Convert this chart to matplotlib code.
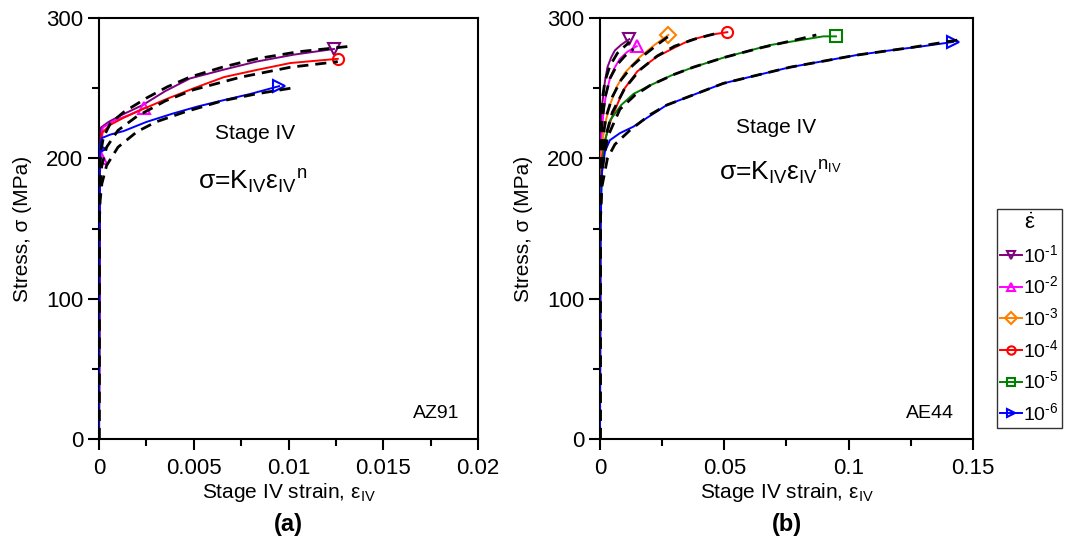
import matplotlib
matplotlib.use("Agg")
import matplotlib.pyplot as plt
from matplotlib.lines import Line2D

plt.rcParams['font.family'] = ['Liberation Sans', 'DejaVu Sans']
plt.rcParams['mathtext.fontset'] = 'custom'
plt.rcParams['mathtext.rm'] = 'Liberation Sans'
plt.rcParams['mathtext.it'] = 'Liberation Sans:italic'
plt.rcParams['mathtext.bf'] = 'Liberation Sans:bold'
plt.rcParams['mathtext.default'] = 'regular'

# strain-rate labels and styles
rate_labels = ['10$^{‐1}$', '10$^{‐2}$', '10$^{‐3}$', '10$^{‐4}$', '10$^{‐5}$', '10$^{‐6}$']
rate_colors = ['#800080', '#ff00ff', '#ff8000', '#ff0000', '#008000', '#0000ff']
rate_markers = ['v', '^', 'D', 'o', 's', '>']

# ---- (a) AZ91 measured curves (strain, stress MPa) ----
a_eps_1 = [0, 0.00005, 0.0001, 0.0005, 0.0012, 0.0023, 0.0035, 0.0048, 0.0065, 0.0083, 0.0103, 0.0124]
a_sig_1 = [0, 200, 222, 226, 231, 238, 248, 257, 263, 269, 274, 278]
a_eps_2 = [0, 0.00005, 0.0001, 0.00015, 0.0002, 0.0008, 0.0016, 0.0024]
a_sig_2 = [0, 190, 200, 212, 222, 227, 231, 236]
a_eps_4 = [0, 0.00005, 0.00014, 0.0006, 0.0013, 0.0022, 0.0035, 0.005, 0.0066, 0.0083, 0.0101, 0.0126]
a_sig_4 = [0, 200, 218, 224, 229, 234.5, 242, 250, 258, 263, 268, 271]
a_eps_6 = [0, 0.00005, 0.00014, 0.0006, 0.0013, 0.0025, 0.0039, 0.0052, 0.0066, 0.008, 0.0095]
a_sig_6 = [0, 207, 214.5, 217, 219.5, 226, 232, 237, 241.6, 246, 251.5]

# (a) fitted curves (dashed)
a_fit_eps_1 = [0, 0.000005, 0.00002, 0.00005, 0.0001, 0.00023, 0.0006, 0.0013, 0.0025, 0.0036, 0.0048, 0.0065, 0.0083, 0.0105, 0.0133]
a_fit_sig_1 = [0, 150, 180, 195, 205, 215, 225, 233, 243, 251, 258, 265, 271, 276, 280]
a_fit_eps_4 = [0, 0.000005, 0.00002, 0.00006, 0.00015, 0.0004, 0.001, 0.002, 0.0035, 0.005, 0.0075, 0.0101, 0.0126]
a_fit_sig_4 = [0, 140, 165, 182, 195, 208, 220, 230, 241, 249, 258, 265, 269]
a_fit_eps_6 = [0, 0.000005, 0.00002, 0.00006, 0.00015, 0.0004, 0.001, 0.002, 0.003, 0.0045, 0.0065, 0.0083, 0.0101]
a_fit_sig_6 = [0, 135, 155, 170, 182, 195, 208, 219, 226, 233, 241, 246, 250]

# ---- (b) AE44 measured curves ----
b_eps_1 = [0, 0.00005, 0.0002, 0.0005, 0.001, 0.002, 0.003, 0.0045, 0.006, 0.0085, 0.0118]
b_sig_1 = [0, 150, 200, 225, 240, 255, 265, 272, 277, 281, 285]
b_eps_2 = [0, 0.0001, 0.0003, 0.0008, 0.0015, 0.0025, 0.004, 0.006, 0.008, 0.011, 0.0148]
b_sig_2 = [0, 170, 200, 220, 235, 246, 257, 265, 271, 276, 280]
b_eps_3 = [0, 0.0002, 0.0006, 0.0012, 0.0025, 0.004, 0.0067, 0.01, 0.0161, 0.022, 0.0275]
b_sig_3 = [0, 185, 205, 215, 228, 238, 251, 261, 272.4, 281, 288]
b_eps_4 = [0, 0.0002, 0.0008, 0.002, 0.0045, 0.0094, 0.015, 0.0228, 0.03, 0.0362, 0.044, 0.0512]
b_sig_4 = [0, 180, 200, 213, 228, 248.7, 262, 272.4, 279, 284.3, 288, 290]
b_eps_5 = [0, 0.0002, 0.0008, 0.002, 0.004, 0.0085, 0.0135, 0.0201, 0.0285, 0.0375, 0.05, 0.0684, 0.0898, 0.0949]
b_sig_5 = [0, 170, 195, 212, 227, 238, 246, 252, 259, 265, 272, 280.8, 287, 287]
b_eps_6 = [0, 0.0002, 0.0008, 0.002, 0.004, 0.008, 0.0134, 0.0268, 0.0496, 0.0764, 0.103, 0.1166, 0.13, 0.142]
b_sig_6 = [0, 150, 190, 205, 213, 218, 222.6, 238, 253.5, 265, 273.6, 277, 280, 283]

# (b) fitted curves (dashed)
b_fit_eps_1 = [0, 0.00001, 0.0001, 0.0005, 0.001, 0.002, 0.004, 0.007, 0.01, 0.012]
b_fit_sig_1 = [0, 170, 205, 232, 243, 255, 266, 275, 280, 283]
b_fit_eps_2 = [0, 0.00002, 0.0002, 0.0008, 0.002, 0.004, 0.007, 0.01, 0.0135]
b_fit_sig_2 = [0, 165, 200, 225, 243, 257, 267, 273, 278]
b_fit_eps_3 = [0, 0.00002, 0.0003, 0.001, 0.0025, 0.005, 0.0085, 0.013, 0.018, 0.023, 0.0275]
b_fit_sig_3 = [0, 160, 195, 213, 230, 244, 256, 266, 274, 281, 287]
b_fit_eps_4 = [0, 0.00003, 0.0005, 0.002, 0.005, 0.01, 0.016, 0.023, 0.03, 0.038, 0.0465]
b_fit_sig_4 = [0, 160, 193, 214, 233, 250, 263, 273, 280, 285, 289]
b_fit_eps_5 = [0, 0.00003, 0.0007, 0.003, 0.008, 0.014, 0.0201, 0.03, 0.0375, 0.05, 0.065, 0.08, 0.087]
b_fit_sig_5 = [0, 155, 190, 215, 235, 245, 252, 260, 265, 272, 279, 285, 288]
b_fit_eps_6 = [0, 0.00003, 0.0008, 0.003, 0.006, 0.012, 0.02, 0.0268, 0.0496, 0.0764, 0.103, 0.125, 0.146]
b_fit_sig_6 = [0, 150, 180, 200, 210, 220, 231, 238, 253.5, 265, 273.6, 279, 285]

# tick positions / labels
a_xticks = [0, 0.005, 0.01, 0.015, 0.02]
a_xticklabels = ['0', '0.005', '0.01', '0.015', '0.02']
b_xticks = [0, 0.05, 0.1, 0.15]
b_xticklabels = ['0', '0.05', '0.1', '0.15']
y_ticks = [0, 100, 200, 300]


def style_axes(ax, xticks, xlabels):
    ax.set_xlim(xticks[0], xticks[-1])
    ax.set_ylim(0, 300)
    ax.set_xticks(xticks)
    ax.set_xticklabels(xlabels)
    step = xticks[1] - xticks[0]
    ax.set_xticks([t + step / 2 for t in xticks[:-1]], minor=True)
    ax.set_yticks(y_ticks)
    ax.set_yticks([50, 150, 250], minor=True)
    ax.tick_params(which='both', direction='out', top=False, right=False,
                   labelsize=16, width=1.5)
    ax.tick_params(axis='x', which='major', pad=6)
    ax.tick_params(which='major', length=8)
    ax.tick_params(which='minor', length=5)
    for s in ax.spines.values():
        s.set_linewidth(1.5)
    ax.set_ylabel('Stress, σ (MPa)', fontsize=15, labelpad=10)
    ax.set_xlabel('Stage IV strain, ε$_{IV}$', fontsize=15, labelpad=1)


def draw(ax, eps, sig, k, marks=(-1,)):
    ax.plot(eps, sig, color=rate_colors[k], lw=1.4, marker=rate_markers[k],
            markevery=list(marks), mfc='none', ms=8, mew=1.5, zorder=3)


def fit(ax, eps, sig):
    ax.plot(eps, sig, color='black', lw=2, ls=(0, (4, 2.5)), zorder=4)


fig = plt.figure(figsize=(10.67, 5.41), dpi=100)
ax1 = fig.add_axes([0.0928, 0.1885, 0.3552, 0.778])
ax2 = fig.add_axes([0.5623, 0.1885, 0.3496, 0.778])

# panel (a)
fit(ax1, a_fit_eps_1, a_fit_sig_1)
fit(ax1, a_fit_eps_4, a_fit_sig_4)
fit(ax1, a_fit_eps_6, a_fit_sig_6)
draw(ax1, a_eps_1, a_sig_1, 0)
draw(ax1, a_eps_2, a_sig_2, 1, marks=(2, -1))
draw(ax1, a_eps_4, a_sig_4, 3)
draw(ax1, a_eps_6, a_sig_6, 5, marks=(1, -1))
style_axes(ax1, a_xticks, a_xticklabels)
ax1.text(0.00823, 218, 'Stage IV', fontsize=15, ha='center', va='center')
ax1.text(0.0081, 183, 'σ=K$_{IV}$ε$_{IV}$$^{n}$', fontsize=19, ha='center', va='center')
ax1.text(0.95, 0.04, 'AZ91', transform=ax1.transAxes, fontsize=14, ha='right', va='bottom')
ax1.text(0.5, -0.175, '(a)', transform=ax1.transAxes, fontsize=17, fontweight='bold',
         ha='center', va='top')

# panel (b)
fit(ax2, b_fit_eps_1, b_fit_sig_1)
fit(ax2, b_fit_eps_2, b_fit_sig_2)
fit(ax2, b_fit_eps_3, b_fit_sig_3)
fit(ax2, b_fit_eps_4, b_fit_sig_4)
fit(ax2, b_fit_eps_5, b_fit_sig_5)
fit(ax2, b_fit_eps_6, b_fit_sig_6)
draw(ax2, b_eps_1, b_sig_1, 0)
draw(ax2, b_eps_2, b_sig_2, 1)
draw(ax2, b_eps_3, b_sig_3, 2)
draw(ax2, b_eps_4, b_sig_4, 3)
draw(ax2, b_eps_5, b_sig_5, 4)
draw(ax2, b_eps_6, b_sig_6, 5)
style_axes(ax2, b_xticks, b_xticklabels)
ax2.text(0.0708, 222, 'Stage IV', fontsize=15, ha='center', va='center')
ax2.text(0.0724, 190, 'σ=K$_{IV}$ε$_{IV}$$^{n_{IV}}$', fontsize=19, ha='center', va='center')
ax2.text(0.95, 0.04, 'AE44', transform=ax2.transAxes, fontsize=14, ha='right', va='bottom')
ax2.text(0.5, -0.175, '(b)', transform=ax2.transAxes, fontsize=17, fontweight='bold',
         ha='center', va='top')

# legend
handles = [Line2D([], [], color=c, marker=m, mfc='none', ms=6, mew=1.5, lw=1.4)
           for c, m in zip(rate_colors, rate_markers)]
leg = fig.legend(handles, rate_labels, title=r'$\dot{\varepsilon}$', loc='lower left',
                 bbox_to_anchor=(0.934, 0.209), fontsize=14, title_fontsize=16,
                 frameon=True, fancybox=False, edgecolor='black', handlelength=1.1,
                 handletextpad=0.05, labelspacing=0.5, borderpad=0.2,
                 borderaxespad=0)
leg.get_frame().set_linewidth(1.0)

fig.savefig('out.png', dpi=100)
